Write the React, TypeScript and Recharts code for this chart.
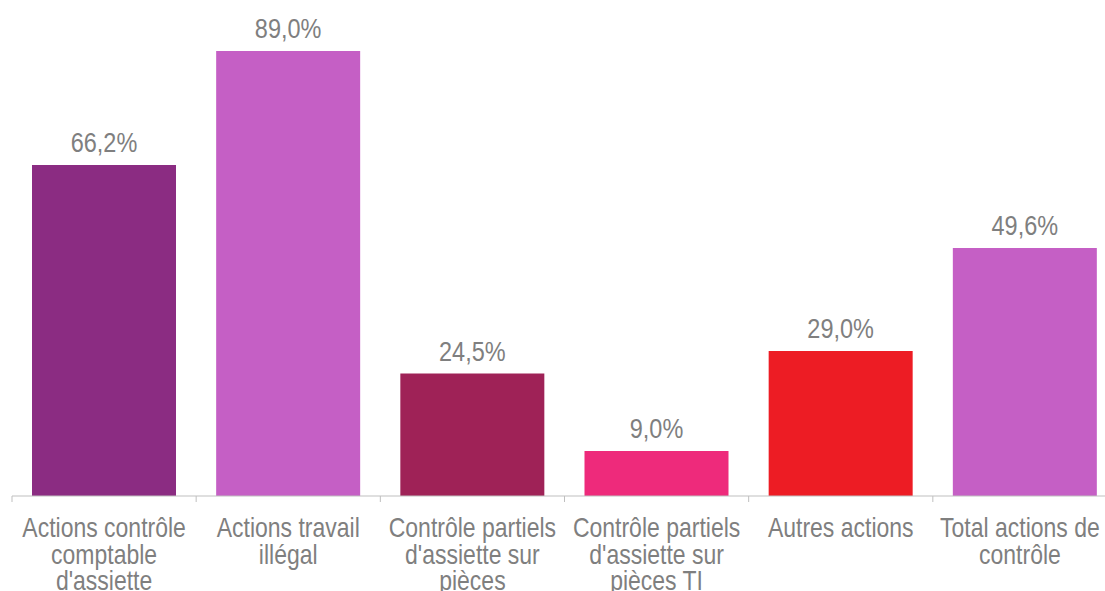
import React from 'react';
import { BarChart, Bar, XAxis, YAxis, Cell, LabelList } from 'recharts';

const categories = [
  'Actions contrôle\ncomptable\nd\'assiette',
  'Actions travail\nillégal',
  'Contrôle partiels\nd\'assiette sur\npièces',
  'Contrôle partiels\nd\'assiette sur\npièces TI',
  'Autres actions',
  'Total actions de\ncontrôle',
];
const values = [66.2, 89.0, 24.5, 9.0, 29.0, 49.6];
const colors = ['#8B2C82', '#C55FC5', '#9F2257', '#EE2A7B', '#ED1C24', '#C55FC5'];

const data = categories.map((name, i) => ({ name, value: values[i] }));

const FONT = '"Liberation Sans", Arial, sans-serif';
const GRAY = '#7f7f7f';
const PLOT_W = 1105;
const HALF_BAND = PLOT_W / categories.length / 2;
const STRETCH = 1.18; // the source text is a bit taller than it is wide

const fmt = (v: any) => Number(v).toFixed(1).replace('.', ',') + '%';

function TallText({ x, y, children, size }: any) {
  return (
    <text
      transform={`translate(${x} ${y}) scale(1 ${STRETCH})`}
      textAnchor="middle"
      fill={GRAY}
      fontSize={size}
      fontFamily={FONT}
    >
      {children}
    </text>
  );
}

// tick marks sit between categories, so they are drawn here
function Tick(props: any) {
  const { x, y, payload, index } = props;
  const lines = String(payload.value).split('\n');
  const last = index === categories.length - 1;
  const cx = last ? x - 5 : x;
  return (
    <g>
      <line x1={x - HALF_BAND} x2={x - HALF_BAND} y1={y} y2={y + 6} stroke="#bfbfbf" />
      {last && <line x1={x + HALF_BAND} x2={x + HALF_BAND} y1={y} y2={y + 6} stroke="#bfbfbf" />}
      {lines.map((l, i) => (
        <TallText key={i} x={cx} y={y + 41 + i * 26.5} size={23}>
          {l}
        </TallText>
      ))}
    </g>
  );
}

function ValueLabel(props: any) {
  const { x, y, width, value } = props;
  return (
    <TallText x={x + width / 2} y={y - 13} size={23.5}>
      {fmt(value)}
    </TallText>
  );
}

export default function App() {
  return (
    <div style={{ position: 'fixed', left: 0, top: 0, width: 1105, height: 591, overflow: 'hidden', background: '#fff' }}>
      <BarChart
        width={1130}
        height={591}
        data={data}
        margin={{ top: 46, right: 13, left: 12, bottom: 0 }}
      >
        <XAxis
          dataKey="name"
          height={95}
          interval={0}
          axisLine={{ stroke: '#bfbfbf' }}
          tickLine={false}
          tickSize={0}
          tickMargin={0}
          tick={<Tick />}
        />
        <YAxis hide domain={[0, 90]} />
        <Bar dataKey="value" barSize={144} isAnimationActive={false}>
          {data.map((d, i) => (
            <Cell key={i} fill={colors[i]} />
          ))}
          <LabelList dataKey="value" content={<ValueLabel />} />
        </Bar>
      </BarChart>
    </div>
  );
}
